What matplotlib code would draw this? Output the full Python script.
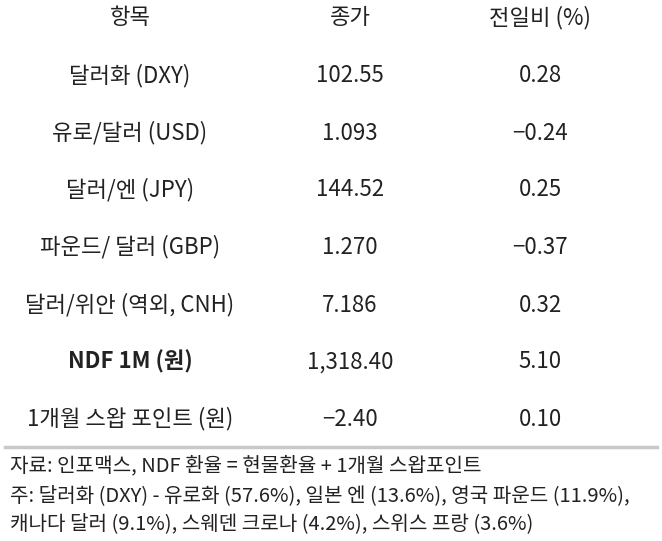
import matplotlib
matplotlib.use("Agg")
import matplotlib.pyplot as plt

plt.rcParams['font.family'] = ['Noto Sans CJK KR', 'DejaVu Sans']

headers = ["항목", "종가", "전일비 (%)"]
items = ["달러화 (DXY)", "유로/달러 (USD)", "달러/엔 (JPY)", "파운드/ 달러 (GBP)",
         "달러/위안 (역외, CNH)", "NDF 1M (원)", "1개월 스왑 포인트 (원)"]
closes = ["102.55", "1.093", "144.52", "1.270", "7.186", "1,318.40", "−2.40"]
changes = ["0.28", "−0.24", "0.25", "−0.37", "0.32", "5.10", "0.10"]
bold_rows = [5]
notes = ["자료: 인포맥스, NDF 환율 = 현물환율 + 1개월 스왑포인트",
         "주: 달러화 (DXY) - 유로화 (57.6%), 일본 엔 (13.6%), 영국 파운드 (11.9%),",
         "캐나다 달러 (9.1%), 스웨덴 크로나 (4.2%), 스위스 프랑 (3.6%)"]

W, H = 662, 541
fig = plt.figure(figsize=(W/100, H/100), dpi=100)
ax = fig.add_axes([0, 0, 1, 1])
ax.set_xlim(0, W); ax.set_ylim(H, 0); ax.axis('off')

cols = [130, 350, 540]
c = '#222222'
for x, h in zip(cols, headers):
    ax.text(x, 18, h, ha='center', va='center', fontsize=16, color=c)
ys = [76, 133, 190, 247, 305, 362, 419]
for i, y in enumerate(ys):
    for j, (x, t) in enumerate(zip(cols, [items[i], closes[i], changes[i]])):
        w = 'bold' if (i in bold_rows and j == 0) else 'normal'
        ax.text(x, y, t, ha='center', va='center', fontsize=16, color=c, fontweight=w)
ax.plot([5, 657], [447, 447], color='#c8c8c8', lw=2.5)
for y, t in zip([466, 496, 524], notes):
    ax.text(10, y, t, ha='left', va='center', fontsize=14.5, color=c)

fig.savefig("out.png", dpi=100)
